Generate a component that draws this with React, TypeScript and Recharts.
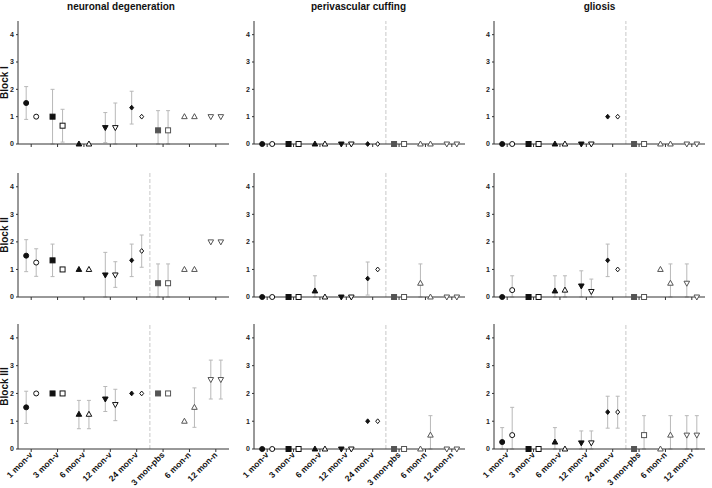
import React from 'react';
import { ScatterChart, Scatter, XAxis, YAxis, ErrorBar, ReferenceLine } from 'recharts';

const FONT = '"Liberation Sans", Arial, sans-serif';

const CATEGORIES = ['1 mon-v', '3 mon-v', '6 mon-v', '12 mon-v', '24 mon-v', '3 mon-pbs', '6 mon-n', '12 mon-n'];
const COLUMN_TITLES = ['neuronal degeneration', 'perivascular cuffing', 'gliosis'];
const ROW_LABELS = ['Block I', 'Block II', 'Block III'];
const Y_TICKS = [0, 1, 2, 3, 4];

type Err = [number, number] | null;

// A = filled marker (left of tick), B = open marker (right of tick)
// error bars given as [low, high]
const ND_I_A = [1.5, 1.0, 0, 0.6, 1.33, 0.5, 1.0, 1.0];
const ND_I_B = [1.0, 0.67, 0, 0.6, 1.0, 0.5, 1.0, 1.0];
const ND_I_A_ERR: Err[] = [[0.9, 2.1], [0, 2.0], null, [0.05, 1.15], [0.73, 1.93], [0, 1.22], null, null];
const ND_I_B_ERR: Err[] = [null, [0.07, 1.27], null, [0, 1.5], null, [0, 1.22], null, null];

const ND_II_A = [1.5, 1.33, 1.0, 0.8, 1.33, 0.5, 1.0, 2.0];
const ND_II_B = [1.25, 1.0, 1.0, 0.8, 1.67, 0.5, 1.0, 2.0];
const ND_II_A_ERR: Err[] = [[0.92, 2.08], [0.74, 1.92], null, [0, 1.62], [0.74, 1.92], [0, 1.2], null, null];
const ND_II_B_ERR: Err[] = [[0.75, 1.75], null, null, [0.35, 1.28], [1.08, 2.25], [0, 1.2], null, null];

const ND_III_A = [1.5, 2.0, 1.25, 1.8, 2.0, 2.0, 1.0, 2.5];
const ND_III_B = [2.0, 2.0, 1.25, 1.6, 2.0, 2.0, 1.5, 2.5];
const ND_III_A_ERR: Err[] = [[0.92, 2.08], null, [0.73, 1.75], [1.35, 2.25], null, null, null, [1.8, 3.2]];
const ND_III_B_ERR: Err[] = [null, null, [0.73, 1.75], [1.02, 2.15], null, null, [0.78, 2.2], [1.8, 3.2]];

const PC_I_A = [0, 0, 0, 0, 0, 0, 0, 0];
const PC_I_B = [0, 0, 0, 0, 0, 0, 0, 0];
const PC_I_A_ERR: Err[] = [null, null, null, null, null, null, null, null];
const PC_I_B_ERR: Err[] = [null, null, null, null, null, null, null, null];

const PC_II_A = [0, 0, 0.22, 0, 0.67, 0, 0.5, 0];
const PC_II_B = [0, 0, 0, 0, 1.0, 0, 0, 0];
const PC_II_A_ERR: Err[] = [null, null, [0, 0.77], null, [0.07, 1.27], null, [0, 1.2], null];
const PC_II_B_ERR: Err[] = [null, null, null, null, null, null, null, null];

const PC_III_A = [0, 0, 0, 0, 1.0, 0, 0, 0];
const PC_III_B = [0, 0, 0, 0, 1.0, 0, 0.5, 0];
const PC_III_A_ERR: Err[] = [null, null, null, null, null, null, null, null];
const PC_III_B_ERR: Err[] = [null, null, null, null, null, null, [0, 1.2], null];

const GL_I_A = [0, 0, 0, 0, 1.0, 0, 0, 0];
const GL_I_B = [0, 0, 0, 0, 1.0, 0, 0, 0];
const GL_I_A_ERR: Err[] = [null, null, null, null, null, null, null, null];
const GL_I_B_ERR: Err[] = [null, null, null, null, null, null, null, null];

const GL_II_A = [0, 0, 0.22, 0.4, 1.33, 0, 1.0, 0.5];
const GL_II_B = [0.25, 0, 0.25, 0.2, 1.0, 0, 0.5, 0];
const GL_II_A_ERR: Err[] = [null, null, [0, 0.77], [0, 0.95], [0.74, 1.92], null, null, [0, 1.2]];
const GL_II_B_ERR: Err[] = [[0, 0.77], null, [0, 0.77], [0, 0.65], null, null, [0, 1.2], null];

const GL_III_A = [0.25, 0, 0.25, 0.22, 1.33, 0, 0, 0.5];
const GL_III_B = [0.5, 0, 0, 0.22, 1.33, 0.5, 0.5, 0.5];
const GL_III_A_ERR: Err[] = [[0, 0.77], null, [0, 0.77], [0, 0.65], [0.75, 1.9], null, null, [0, 1.2]];
const GL_III_B_ERR: Err[] = [[0, 1.5], null, null, [0, 0.65], [0.75, 1.9], [0, 1.2], [0, 1.2], [0, 1.2]];

// layout (page pixels)
const COL_LEFT = [18, 253.5, 494];
const COL_WIDTH = 211;
const TITLE_X = [121, 358.5, 599.5];
const ROW_TOP = [21, 173, 324];
const ROW_HEIGHT = [123, 124, 125];
const PAIR_OFFSET = 0.19;
const MARKERS = ['circle', 'square', 'triUp', 'triDown', 'diamond', 'square', 'triUp', 'triDown'];

function buildSeries(values: number[], errs: Err[], side: number) {
  return values.map((v, i) => {
    const e = errs[i];
    return {
      x: i + side * PAIR_OFFSET,
      y: v,
      err: e ? [v - e[0], e[1] - v] : null,
      idx: i,
      open: side > 0,
    };
  });
}

const PANELS = [
  [
    { a: buildSeries(ND_I_A, ND_I_A_ERR, -1), b: buildSeries(ND_I_B, ND_I_B_ERR, 1), divider: false },
    { a: buildSeries(PC_I_A, PC_I_A_ERR, -1), b: buildSeries(PC_I_B, PC_I_B_ERR, 1), divider: true },
    { a: buildSeries(GL_I_A, GL_I_A_ERR, -1), b: buildSeries(GL_I_B, GL_I_B_ERR, 1), divider: true },
  ],
  [
    { a: buildSeries(ND_II_A, ND_II_A_ERR, -1), b: buildSeries(ND_II_B, ND_II_B_ERR, 1), divider: true },
    { a: buildSeries(PC_II_A, PC_II_A_ERR, -1), b: buildSeries(PC_II_B, PC_II_B_ERR, 1), divider: true },
    { a: buildSeries(GL_II_A, GL_II_A_ERR, -1), b: buildSeries(GL_II_B, GL_II_B_ERR, 1), divider: true },
  ],
  [
    { a: buildSeries(ND_III_A, ND_III_A_ERR, -1), b: buildSeries(ND_III_B, ND_III_B_ERR, 1), divider: true },
    { a: buildSeries(PC_III_A, PC_III_A_ERR, -1), b: buildSeries(PC_III_B, PC_III_B_ERR, 1), divider: true },
    { a: buildSeries(GL_III_A, GL_III_A_ERR, -1), b: buildSeries(GL_III_B, GL_III_B_ERR, 1), divider: true },
  ],
];

function renderMarker(props: any) {
  const { cx, cy, payload } = props;
  if (cx == null || cy == null || !payload) return <g />;
  const kind = MARKERS[payload.idx];
  const gray = payload.idx >= 5;
  const open = payload.open || payload.idx >= 6;
  const stroke = gray ? '#555' : '#111';
  const fill = open ? '#fff' : gray ? '#555' : '#111';
  const common = { fill, stroke, strokeWidth: 1 };
  switch (kind) {
    case 'circle':
      return <circle cx={cx} cy={cy} r={2.5} {...common} />;
    case 'square':
      return <rect x={cx - 2.5} y={cy - 2.5} width={5} height={5} {...common} />;
    case 'triUp':
      return <polygon points={`${cx},${cy - 3} ${cx + 2.8},${cy + 2} ${cx - 2.8},${cy + 2}`} {...common} />;
    case 'triDown':
      return <polygon points={`${cx},${cy + 3} ${cx + 2.8},${cy - 2} ${cx - 2.8},${cy - 2}`} {...common} />;
    default:
      return <polygon points={`${cx},${cy - 2.4} ${cx + 2},${cy} ${cx},${cy + 2.4} ${cx - 2},${cy}`} {...common} />;
  }
}

function renderXTick(props: any) {
  const { x, y, payload } = props;
  const ax = x + 2;
  const ay = y + 1.5;
  return (
    <text
      x={ax}
      y={ay}
      textAnchor="end"
      transform={`rotate(-45, ${ax}, ${ay})`}
      fontSize={8.5}
      fontWeight="bold"
      fontFamily={FONT}
      fill="#111"
    >
      {CATEGORIES[payload.value]}
    </text>
  );
}

const renderNoTick = () => <g />;

function Panel({ row, col }: { row: number; col: number }) {
  const { a, b, divider } = PANELS[row][col];
  const isBottom = row === 2;
  const xAxisH = isBottom ? 60 : 8;
  const width = 18 + COL_WIDTH + 4;
  const height = 5 + ROW_HEIGHT[row] + xAxisH;
  return (
    <div style={{ position: 'absolute', left: COL_LEFT[col] - 18, top: ROW_TOP[row] - 5 }}>
      <ScatterChart width={width} height={height} margin={{ top: 5, right: 4, left: 0, bottom: 0 }}>
        <XAxis
          type="number"
          dataKey="x"
          domain={[-0.5, 7.5]}
          ticks={[0, 1, 2, 3, 4, 5, 6, 7]}
          interval={0}
          tickSize={3}
          height={xAxisH}
          stroke="#333"
          tick={isBottom ? renderXTick : renderNoTick}
        />
        <YAxis
          type="number"
          dataKey="y"
          domain={[0, 4.5]}
          ticks={Y_TICKS}
          interval={0}
          width={18}
          tickSize={2}
          stroke="#333"
          tick={{ fontSize: 7, fontWeight: 'bold', fill: '#222', fontFamily: FONT }}
        />
        {divider && <ReferenceLine x={4.5} stroke="#c8c8c8" strokeDasharray="4 2" />}
        <Scatter data={a} shape={renderMarker} isAnimationActive={false}>
          <ErrorBar dataKey="err" direction="y" width={2} stroke="#b8b8b8" strokeWidth={1} isAnimationActive={false} />
        </Scatter>
        <Scatter data={b} shape={renderMarker} isAnimationActive={false}>
          <ErrorBar dataKey="err" direction="y" width={2} stroke="#b8b8b8" strokeWidth={1} isAnimationActive={false} />
        </Scatter>
      </ScatterChart>
    </div>
  );
}

export default function App() {
  return (
    <div style={{ position: 'absolute', left: 0, top: 0, width: 712, height: 488, background: '#fff', fontFamily: FONT }}>
      <svg width={712} height={488} style={{ position: 'absolute', left: 0, top: 0 }}>
        {COLUMN_TITLES.map((t, c) => (
          <text key={t} x={TITLE_X[c]} y={9.5} textAnchor="middle" fontSize={10} fontWeight="bold" fontFamily={FONT} fill="#111">
            {t}
          </text>
        ))}
        {ROW_LABELS.map((t, r) => {
          const cy = ROW_TOP[r] + ROW_HEIGHT[r] / 2;
          return (
            <text
              key={t}
              x={8}
              y={cy}
              textAnchor="middle"
              transform={`rotate(-90, 8, ${cy})`}
              fontSize={10}
              fontWeight="bold"
              fontFamily={FONT}
              fill="#111"
            >
              {t}
            </text>
          );
        })}
      </svg>
      {[0, 1, 2].map((r) => [0, 1, 2].map((c) => <Panel key={`${r}-${c}`} row={r} col={c} />))}
    </div>
  );
}
